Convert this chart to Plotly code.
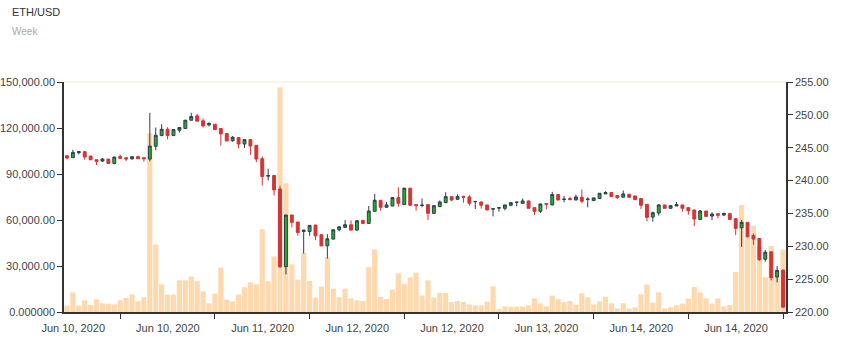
import plotly.graph_objects as go

open_ = [243.78,243.48,244.24,244.40,243.73,243.17,242.97,243.27,242.61,243.68,243.48,243.32,243.63,243.48,243.27,245.21,246.84,247.81,246.84,247.66,247.91,249.19,249.85,249.09,248.48,248.58,247.91,247.15,246.08,246.54,245.57,
         246.23,245.36,243.32,240.67,240.77,238.73,226.90,234.76,233.69,232.26,232.26,233.23,231.75,230.07,231.09,232.51,232.87,233.28,232.46,233.94,233.48,235.32,237.00,235.93,236.13,237.41,236.34,238.84,236.34,236.20,236.34,
         235.01,236.03,236.64,237.56,237.15,237.61,237.51,236.78,236.75,236.29,235.66,235.82,235.78,236.24,236.68,236.54,236.90,235.88,235.32,236.49,236.29,237.87,237.13,237.26,237.05,237.46,237.13,236.95,237.26,237.97,
         238.17,237.72,237.46,237.92,237.66,237.26,236.39,234.45,235.06,236.29,235.78,236.13,236.29,235.88,235.52,234.09,235.37,234.60,234.96,234.76,234.96,234.20,232.82,233.64,231.65,231.19,228.02,229.15,225.32,226.39]
high = [243.85,244.70,244.42,244.42,243.75,243.20,243.43,243.30,243.62,243.94,243.50,243.66,243.78,243.50,250.31,248.07,248.58,248.12,247.80,248.10,249.22,250.31,250.16,249.45,248.88,248.60,247.95,247.20,246.79,246.60,246.26,
        246.30,245.40,243.68,241.80,240.80,239.24,234.80,234.80,233.72,232.50,233.20,233.25,231.80,231.85,232.55,233.00,233.99,233.94,233.92,234.00,236.13,237.97,237.05,236.75,237.45,238.99,238.90,238.90,236.37,237.26,236.40,
        236.20,236.95,238.23,237.60,237.92,237.65,237.82,236.85,236.78,236.32,235.72,235.88,236.32,236.67,236.75,237.26,236.93,235.90,236.47,236.52,238.28,237.90,237.66,237.56,237.87,238.63,237.46,237.40,238.10,238.38,
        238.20,237.75,238.48,237.95,237.70,237.30,236.42,235.27,236.44,236.32,236.20,236.75,236.32,235.90,235.55,235.52,235.40,235.16,235.00,235.11,235.11,234.25,233.99,233.70,231.95,231.25,229.45,229.20,227.00,226.40]
low = [243.22,243.45,243.99,243.17,243.12,242.36,242.82,242.55,242.46,243.33,242.97,243.17,243.28,242.87,242.92,244.60,246.80,246.28,246.80,247.30,247.88,249.15,249.00,248.07,248.22,247.70,245.31,246.00,245.88,244.91,244.96,
       243.89,242.82,239.24,240.01,237.71,226.80,225.73,232.87,231.59,228.89,231.59,230.93,230.00,228.13,231.05,232.26,232.85,232.43,232.43,233.45,233.45,235.30,235.42,235.90,236.10,236.03,236.30,236.20,235.42,235.93,233.99,
       234.98,236.00,236.60,236.85,237.12,236.64,236.18,235.68,235.73,235.50,234.55,235.27,235.47,236.08,236.08,236.50,235.75,234.76,235.06,235.62,236.25,237.00,236.70,237.07,237.00,236.54,235.93,236.90,237.20,237.95,
       237.50,237.20,237.43,237.43,237.05,235.68,233.79,233.74,234.66,235.75,235.75,236.10,235.27,234.81,233.07,234.05,234.50,233.99,234.25,234.60,234.05,231.70,229.91,231.40,230.22,227.77,227.67,224.81,224.51,220.70]
close = [243.43,244.29,244.40,243.58,243.17,242.92,243.27,242.61,243.58,243.38,243.27,243.63,243.32,243.32,245.26,246.89,247.81,246.84,247.76,248.07,249.19,249.75,249.04,248.32,248.68,247.76,247.10,246.03,246.59,245.57,246.23,
         245.26,243.27,240.62,240.77,238.58,226.85,234.76,233.64,232.10,232.46,233.18,231.59,230.07,231.14,232.51,232.97,233.28,232.46,233.89,233.48,235.37,237.00,235.93,236.29,237.41,236.54,238.84,236.24,236.19,236.26,235.01,
         236.18,236.75,237.56,237.05,237.56,237.46,236.54,236.82,236.24,235.52,235.70,235.86,236.29,236.64,236.72,236.90,235.78,235.32,236.44,236.39,237.87,237.05,237.17,237.10,237.51,236.85,237.17,237.36,238.07,238.17,
         237.56,237.41,237.97,237.46,237.10,236.24,234.40,235.11,236.29,235.78,236.18,236.34,235.78,235.42,234.15,235.37,234.55,234.91,234.71,235.01,234.09,232.72,233.64,231.44,231.09,227.97,229.10,225.22,226.34,220.73]
volume = [4140,12860,4140,7630,4580,8280,5670,5450,5010,7630,9150,11550,6970,9590,116580,44020,18090,11330,11330,20700,20700,23100,20050,13510,5670,11980,28980,8060,6970,11330,16130,
          19390,18090,54040,20050,36390,146650,83890,31160,21130,38570,20270,9370,16560,35740,15250,9590,15250,8930,7630,7190,29200,40750,9800,8500,14600,25280,18300,22660,25710,10680,20700,
          9370,12420,12420,6540,7190,6540,5010,4360,4360,6750,16780,1960,3700,3270,3490,3490,4360,8930,5670,3700,10680,8280,6540,7190,4790,12200,9590,5010,6970,10020,
          5670,2400,5670,2180,3050,11550,17870,6100,12860,2400,3050,4360,5450,8720,16340,12860,8720,5450,8720,3700,4580,26150,69730,49030,56220,42490,22660,43140,22660,40750]

x = list(range(len(open_)))

tick_idx = [9, 25, 41, 57, 73, 89, 105, 121]
tick_labels = ["Jun 10, 2020", "Jun 10, 2020", "Jun 11, 2020", "Jun 12, 2020",
               "Jun 12, 2020", "Jun 13, 2020", "Jun 14, 2020", "Jun 14, 2020"]
vol_ticks = [0, 30000, 60000, 90000, 120000, 150000]
vol_labels = ["0.000000", "30,000.00", "60,000.00", "90,000.00", "120,000.00", "150,000.00"]
price_ticks = [220, 225, 230, 235, 240, 245, 250, 255]

font = "Liberation Sans, Arial, sans-serif"
L, R, T, B = 64, 55, 82, 33
W, H = 841, 345
pw, ph = W - L - R, H - T - B

fig = go.Figure()
fig.add_trace(go.Bar(
    x=x, y=volume, yaxis="y", xaxis="x",
    marker=dict(color="rgba(255,210,160,0.85)", line=dict(width=0)),
    hoverinfo="skip", showlegend=False,
))
fig.add_trace(go.Candlestick(
    x=x, open=open_, high=high, low=low, close=close,
    yaxis="y2", xaxis="x",
    increasing=dict(line=dict(color="#2c3e50", width=1), fillcolor="#22b022"),
    decreasing=dict(line=dict(color="#d33535", width=1), fillcolor="#d33535"),
    whiskerwidth=0, showlegend=False,
))

axis_font = dict(family=font, size=11, color="#444")
fig.update_layout(
    width=W, height=H,
    margin=dict(l=L, r=R, t=T, b=B, autoexpand=False),
    paper_bgcolor="white", plot_bgcolor="white",
    bargap=0.12, boxgap=0.3,
    font=dict(family=font),
    xaxis=dict(
        range=[-0.5, 121.5], rangeslider=dict(visible=False), automargin=False,
        tickmode="array", tickvals=tick_idx, ticktext=tick_labels,
        ticks="outside", ticklen=5, tickcolor="#333", ticklabelshift=-47,
        showline=True, linecolor="#333", linewidth=1.5,
        showgrid=False, zeroline=False, tickfont=axis_font,
    ),
    yaxis=dict(
        range=[0, 150000], tickmode="array", tickvals=vol_ticks, ticktext=vol_labels,
        ticks="outside", ticklen=5, tickcolor="#333", automargin=False,
        showline=True, linecolor="#333", linewidth=1.5,
        showgrid=False, zeroline=False, tickfont=axis_font,
    ),
    yaxis2=dict(
        range=[220, 255], overlaying="y", side="right", automargin=False,
        tickmode="array", tickvals=price_ticks, ticktext=[f"{v:.2f}" for v in price_ticks],
        ticks="outside", ticklen=5, tickcolor="#333",
        showline=True, linecolor="#333", linewidth=1.5,
        showgrid=False, zeroline=False, tickfont=axis_font,
    ),
    shapes=[dict(type="line", xref="paper", yref="paper", x0=0, x1=1, y0=1, y1=1,
                 line=dict(color="#fdf1e3", width=1.5))],
)
fig.add_annotation(text="ETH/USD", xref="paper", yref="paper", x=(10 - L) / pw, y=1 + (T - 12) / ph,
                   xanchor="left", yanchor="middle", showarrow=False,
                   font=dict(family=font, size=11, color="#333"))
fig.add_annotation(text="Week", xref="paper", yref="paper", x=(10 - L) / pw, y=1 + (T - 32) / ph,
                   xanchor="left", yanchor="middle", showarrow=False,
                   font=dict(family=font, size=10, color="#aaa"))

fig.write_html("out.html")
